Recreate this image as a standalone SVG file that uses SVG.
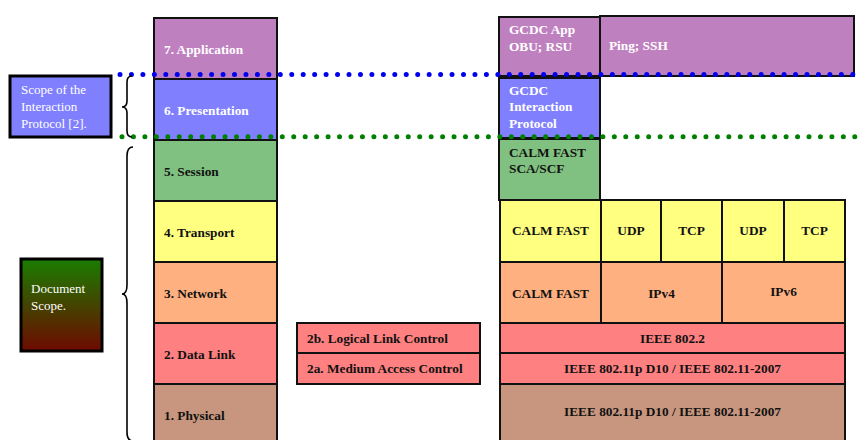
<svg xmlns="http://www.w3.org/2000/svg" width="860" height="440" viewBox="0 0 860 440">
<style>
.b{stroke:#111;stroke-width:2}
.t{font-family:"Liberation Serif","Times New Roman",serif;font-size:13.3px;font-weight:bold;fill:#111}
.w{fill:#fff}
.n{font-family:"Liberation Serif","Times New Roman",serif;font-size:13px;fill:#fff}
.c{text-anchor:middle}
.app{fill:#bf80bf}.pre{fill:#8080ff}.ses{fill:#80c080}.tra{fill:#ffff80}.net{fill:#ffb080}.dl{fill:#ff8080}.phy{fill:#c8967e}
</style>
<defs>
<linearGradient id="doc" x1="0" y1="0" x2="0" y2="1">
<stop offset="0" stop-color="#1a7d00"/>
<stop offset="1" stop-color="#6e0a00"/>
</linearGradient>
</defs>
<rect width="860" height="440" fill="#fff"/>

<g id="scope-box"><rect x="10" y="76" width="101" height="61" class="pre" stroke="#000" stroke-width="3"/>
<text class="n" x="21" y="94">Scope of the</text><text class="n" x="21" y="111">Interaction</text><text class="n" x="21" y="128">Protocol [2].</text></g>
<g id="doc-box"><rect x="21" y="259" width="81" height="92" fill="url(#doc)" stroke="#000" stroke-width="3"/>
<text class="n" x="31" y="293">Document</text><text class="n" x="31" y="310">Scope.</text></g>

<g id="osi">
<g id="l7"><rect x="154" y="18" width="123" height="61" class="app b"/><text class="t w" x="164" y="54">7. Application</text></g>
<g id="l6"><rect x="154" y="79" width="123" height="61" class="pre b"/><text class="t w" x="164" y="115">6. Presentation</text></g>
<g id="l5"><rect x="154" y="140" width="123" height="61" class="ses b"/><text class="t" x="164" y="176">5. Session</text></g>
<g id="l4"><rect x="154" y="201" width="123" height="61" class="tra b"/><text class="t" x="164" y="237">4. Transport</text></g>
<g id="l3"><rect x="154" y="262" width="123" height="61" class="net b"/><text class="t" x="164" y="298">3. Network</text></g>
<g id="l2"><rect x="154" y="323" width="123" height="61" class="dl b"/><text class="t" x="164" y="359">2. Data Link</text></g>
<g id="l1"><rect x="154" y="384" width="123" height="62" class="phy b"/><text class="t" x="164" y="420">1. Physical</text></g>
</g>

<g id="l2b"><rect x="297" y="323" width="183" height="30" class="dl b"/><text class="t" x="307" y="343">2b. Logical Link Control</text></g>
<g id="l2a"><rect x="297" y="353" width="183" height="31" class="dl b"/><text class="t" x="307" y="373">2a. Medium Access Control</text></g>

<g id="gcdc-app"><rect x="499" y="17" width="101" height="59" class="app b"/><text class="t w" x="509" y="34">GCDC App</text><text class="t w" x="509" y="51">OBU; RSU</text></g>
<g id="ping"><rect x="600" y="16" width="254" height="60" class="app b"/><text class="t w" x="609" y="50">Ping; SSH</text></g>
<g id="gcdc-ip"><rect x="499" y="78" width="101" height="60" class="pre b"/><text class="t w" x="509" y="95">GCDC</text><text class="t w" x="509" y="111">Interaction</text><text class="t w" x="509" y="128">Protocol</text></g>
<g id="calm-sca"><rect x="499" y="139" width="101" height="61" class="ses b"/><text class="t" x="509" y="157">CALM FAST</text><text class="t" x="509" y="173">SCA/SCF</text></g>

<g id="t-calm"><rect x="500" y="200" width="101" height="62" class="tra b"/><text class="t c" x="550.5" y="235">CALM FAST</text></g>
<g id="t-udp1"><rect x="601" y="200" width="60" height="62" class="tra b"/><text class="t c" x="631" y="235">UDP</text></g>
<g id="t-tcp1"><rect x="661" y="200" width="61" height="62" class="tra b"/><text class="t c" x="691.5" y="235">TCP</text></g>
<g id="t-udp2"><rect x="722" y="200" width="62" height="62" class="tra b"/><text class="t c" x="753" y="235">UDP</text></g>
<g id="t-tcp2"><rect x="784" y="200" width="61" height="62" class="tra b"/><text class="t c" x="814.5" y="235">TCP</text></g>

<g id="n-calm"><rect x="500" y="262" width="101" height="61" class="net b"/><text class="t c" x="550.5" y="298">CALM FAST</text></g>
<g id="n-ipv4"><rect x="601" y="262" width="121" height="61" class="net b"/><text class="t c" x="661.5" y="298">IPv4</text></g>
<g id="n-ipv6"><rect x="722" y="262" width="123" height="61" class="net b"/><text class="t c" x="783.5" y="296">IPv6</text></g>

<g id="ieee8022"><rect x="500" y="323" width="345" height="30" class="dl b"/><text class="t c" x="672.5" y="343">IEEE 802.2</text></g>
<g id="ieee80211-mac"><rect x="500" y="353" width="345" height="31" class="dl b"/><text class="t c" x="672.5" y="373">IEEE 802.11p D10 / IEEE 802.11-2007</text></g>
<g id="ieee80211-phy"><rect x="500" y="384" width="345" height="62" class="phy b"/><text class="t c" x="672.5" y="416">IEEE 802.11p D10 / IEEE 802.11-2007</text></g>

<g id="connectors" fill="none">
<line x1="120" y1="74.5" x2="860" y2="74.5" stroke="#0000ee" stroke-width="5" stroke-linecap="round" stroke-dasharray="0 11.45"/>
<line x1="122" y1="136.8" x2="860" y2="136.8" stroke="#008000" stroke-width="5" stroke-linecap="round" stroke-dasharray="0 11.45"/>
<path d="M132,76 Q127,76 127,82 L127,101 Q127,107 122,107 Q127,107 127,113 L127,131 Q127,137 132,137" stroke="#000" stroke-width="1.6"/>
<path d="M133,147 Q127,147 127,156 L127,285 Q127,294 122,294 Q127,294 127,303 L127,432 Q127,441 133,441" stroke="#000" stroke-width="1.6"/>
</g>
</svg>
